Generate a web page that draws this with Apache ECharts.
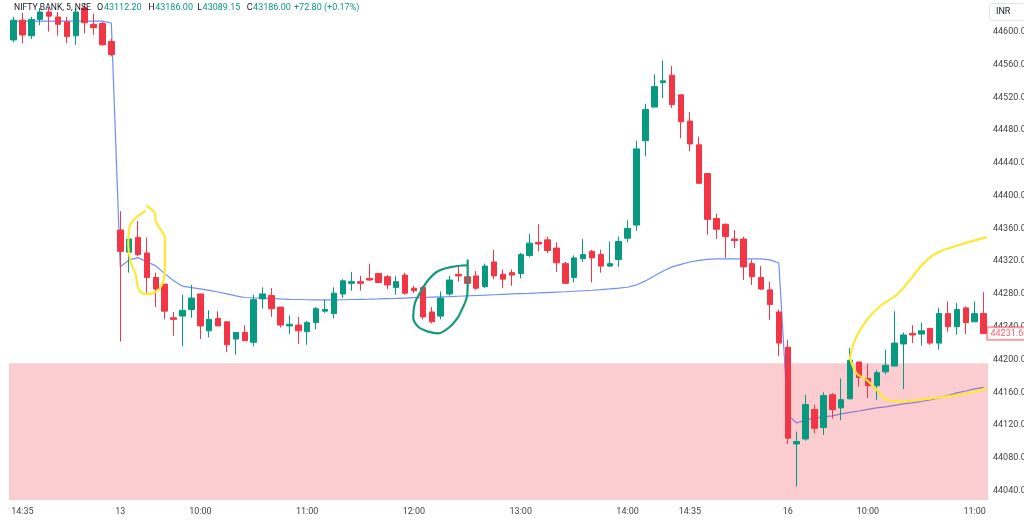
<!DOCTYPE html>
<html><head><meta charset="utf-8">
<script src="https://cdn.jsdelivr.net/npm/echarts@6/dist/echarts.min.js"></script>
<style>html,body{margin:0;padding:0;background:#fff;overflow:hidden}#c{width:1024px;height:522px}</style>
</head><body><div id="c"></div>
<script>
// ---- categories (5-minute candles) ----
const sessions = [
  {day: null, start: '14:30', end: '15:25'},
  {day: '13', start: '09:15', end: '15:25'},
  {day: '16', start: '09:15', end: '11:05'}
];
const xTickLabels = ['14:35', '13', '10:00', '11:00', '12:00', '13:00', '14:00', '16'];

// ---- OHLC: [open, close, low, high] ----
const prevDay = [
  [44590,44614,44587,44618],[44614,44596,44586,44623],[44595,44615,44591,44618],[44615,44624,44608,44629],
  [44624,44619,44600,44629],[44618,44609,44595,44624],[44612,44594,44586,44618],[44595,44624,44584,44629],
  [44629,44611,44598,44635],[44609,44605,44596,44622],[44610,44584,44583,44612],[44588,44572,44570,44592]
];
const day13 = [
  [44358,44332,44222,44381],[44331,44347,44306,44352],[44349,44328,44326,44369],[44330,44300,44279,44349],
  [44300,44286,44264,44306],[44292,44259,44249,44292],[44251,44249,44229,44258],[44253,44260,44216,44279],
  [44261,44275,44251,44291],[44280,44241,44225,44280],[44235,44249,44227,44260],[44250,44241,44241,44259],
  [44246,44218,44209,44246],[44225,44233,44206,44233],[44233,44223,44223,44242],[44221,44273,44216,44279],
  [44274,44280,44262,44288],[44278,44262,44252,44287],[44264,44242,44239,44264],[44241,44243,44231,44254],
  [44242,44235,44219,44252],[44234,44245,44218,44247],[44245,44262,44237,44264],[44259,44261,44257,44273],
  [44256,44281,44250,44288],[44280,44296,44275,44298],[44293,44295,44284,44307],[44295,44293,44284,44302],
  [44299,44297,44296,44317],[44305,44294,44293,44305],[44301,44291,44286,44303],[44288,44295,44279,44302],
  [44303,44281,44279,44306],[44287,44284,44281,44290],[44288,44252,44249,44290],[44258,44246,44244,44264],
  [44253,44275,44249,44283],[44280,44297,44278,44302],[44304,44302,44295,44313],[44301,44293,44289,44306],
  [44302,44287,44285,44308],[44289,44314,44287,44317],[44319,44302,44298,44334],[44304,44298,44287,44310],
  [44306,44303,44290,44310],[44305,44328,44299,44330],[44327,44342,44325,44353],[44343,44341,44332,44365],
  [44346,44333,44330,44350],[44336,44318,44307,44343],[44317,44293,44292,44319],[44300,44324,44294,44327],
  [44323,44328,44319,44347],[44332,44324,44294,44334],[44328,44314,44306,44334],[44314,44317,44313,44344],
  [44322,44344,44313,44350],[44348,44360,44343,44370],[44364,44457,44357,44467],[44467,44505,44448,44512],
  [44508,44533,44508,44548],[44538,44540,44519,44565],[44547,44511,44507,44558],[44523,44490,44470,44523],
  [44491,44463,44454,44502],[44462,44415,44415,44472],[44427,44371,44352,44427],[44372,44359,44347,44378],
  [44365,44350,44324,44366],[44347,44345,44336,44358],[44347,44313,44297,44350],[44317,44301,44291,44322],
  [44300,44286,44285,44314],[44285,44267,44248,44295],[44258,44220,44204,44261]
];
const day16 = [
  [44215,44104,44097,44224],[44097,44100,44045,44112],[44103,44145,44101,44157],[44139,44116,44110,44145],
  [44117,44156,44108,44160],[44157,44139,44128,44159],[44141,44151,44126,44177],[44152,44199,44152,44214],
  [44197,44178,44167,44197],[44177,44168,44153,44195],[44168,44184,44151,44187],[44185,44193,44182,44212],
  [44192,44220,44192,44259],[44219,44230,44164,44233],[44232,44230,44220,44242],[44231,44235,44217,44245],
  [44238,44220,44218,44238],[44220,44256,44212,44263],[44256,44240,44234,44271],[44240,44261,44230,44269],
  [44263,44245,44231,44265],[44246,44256,44246,44271],[44256,44231.6,44231.6,44282]
];

// ---- VWAP ----
const vwapPrev = [44613,44613,44613,44613,44613,44613,44613,44613,44613,44613,44613,44610.6];
const vwap13 = [
  44313.3,44321.5,44324.3,44319,44314.2,44304.8,44296.2,44289.5,44287.8,44286.1,44284.3,44282.4,44280,44277.6,
  44275.7,44275.1,44274.8,44274.4,44273.9,44273.5,44273.2,44272.9,44272.7,44272.7,44272.7,44272.9,44273.2,44273.4,
  44273.6,44273.9,44274.3,44274.6,44275,44275.4,44275.7,44276.1,44276.5,44276.8,44277.2,44277.6,44278.1,44278.5,
  44279,44279.5,44280,44280.5,44280.8,44281.2,44281.7,44282.2,44282.7,44283.3,44283.9,44284.5,44285.2,44286.1,
  44287.1,44288.2,44291,44295.9,44301.9,44308.1,44313,44316,44319,44320.9,44322.1,44322.7,44322.7,44322.7,
  44322.7,44322.7,44322.7,44321.5,44317.8
];
const vwap16 = [
  44132.4,44122.6,44126.3,44128.1,44130,44131.2,44133.6,44135.4,44137.2,44139.1,44140.9,44142.1,
  44144,44145.8,44147,44148.8,44150.7,44153.1,44156.1,44159.2,44161.6,44164.1,44165.9
];

// ---- demand zone ----
const zoneTop = 44195.4;
const zoneBottom = 44028.6;
const lastPrice = 44231.6;

// ---- hand-drawn marks: [candle position, price] ----
const yellowLoop = [[14.78,44381],[13.46,44370],[13.01,44360],[12.9,44340],[13.17,44319],[13.76,44303],[14.02,44287],
  [14.78,44280],[15.71,44281],[16.46,44287],[16.91,44299],[17.02,44319],[17.02,44348],[16.46,44360],[16.01,44368],
  [15.9,44378],[15.03,44387]];
const greenLoop = [[50.92,44315],[49.24,44313],[47.73,44308],[46.61,44297],[45.67,44281],[45.11,44269],[44.92,44252],
  [45.48,44240],[46.61,44234],[47.73,44232],[49.04,44240],[49.98,44252],[50.25,44258],[50.73,44269],[50.99,44279],
  [51.04,44297],[51.04,44321]];
const yellowUpper = [[93.99,44202],[94.55,44224],[95.87,44248],[97.36,44265],[99.24,44279],[100.73,44297],
  [102.22,44317],[103.73,44330],[106.35,44340],[109.27,44349]];
const yellowLower = [[93.99,44202],[94.74,44183],[95.87,44175],[96.99,44163],[98.11,44151],[99.61,44149],
  [102.61,44152],[106.35,44157],[109.27,44164]];

// ---- header ----
const headerName = 'NIFTY BANK, 5, NSE';
const headerVals = [['O','43112.20'],['H','43186.00'],['L','43089.15'],['C','43186.00']];
const headerChange = '+72.80 (+0.17%)';

// build categories
function toMin(s){const p=s.split(':');return (+p[0])*60+(+p[1]);}
function fmt(m){const h=Math.floor(m/60),mm=m%60;return String(h).padStart(2,'0')+':'+String(mm).padStart(2,'0');}
const cats = [];
sessions.forEach(s => {
  for (let m = toMin(s.start); m <= toMin(s.end); m += 5) {
    if (s.day && m === toMin(s.start)) cats.push(s.day); else cats.push(fmt(m));
  }
});
const tickSet = new Set(xTickLabels);
const candles = prevDay.concat(day13, day16);
const vwap = vwapPrev.concat(vwap13, vwap16);
const nCat = cats.length;

const GREEN = '#089981', RED = '#F23645';
const FONT = 'Roboto';
const FS = 9;

const chart = echarts.init(document.getElementById('c'), null, {renderer: 'canvas'});

// header graphics
const g = [
  {type:'text', left:14, top:3.5, z:100, style:{text:headerName, fill:'#131722', font:'8.6px '+FONT}}
];
const hx = [97, 148.3, 197.3, 246.7];
const hOff = [6.9, 6.9, 5.3, 6.4];
headerVals.forEach((p, k) => {
  g.push({type:'text', left:hx[k], top:3.5, z:100, style:{text:p[0], fill:'#131722', font:FS+'px '+FONT}});
  g.push({type:'text', left:hx[k]+hOff[k], top:3.5, z:100, style:{text:p[1], fill:GREEN, font:FS+'px '+FONT}});
});
g.push({type:'text', left:294, top:3.5, z:100, style:{text:headerChange, fill:GREEN, font:FS+'px '+FONT}});
// currency box
g.push({type:'rect', left:989, top:3, z:100, shape:{width:44, height:17, r:3}, style:{fill:'#fff', stroke:'#e0e3eb', lineWidth:1}});
g.push({type:'text', left:996, top:7, z:101, style:{text:'INR', fill:'#131722', font:FS+'px '+FONT}});

const annStyle = (color) => ({type:'line', xAxisIndex:1, yAxisIndex:0, smooth:0.35, symbol:'none', silent:true, z:5,
  lineStyle:{color:color, width:2.2, cap:'round', join:'round'}});

chart.setOption({
  animation:false,
  backgroundColor:'#ffffff',
  grid:[
    {left:9, right:36, top:-1.08, height:524.5, outerBoundsMode:'none', containLabel:false},
    {left:9, right:36, top:500, height:1, outerBoundsMode:'none', containLabel:false}
  ],
  xAxis:[
    {type:'category', gridIndex:0, data:cats, boundaryGap:true, show:false},
    {type:'value', gridIndex:0, min:-0.5, max:nCat-0.5, show:false},
    {type:'category', gridIndex:1, data:cats, boundaryGap:true,
      axisLine:{show:false}, axisTick:{show:false},
      axisLabel:{interval:(i, v) => tickSet.has(v), hideOverlap:false, fontSize:FS, fontFamily:FONT, color:'#444', margin:6}}
  ],
  yAxis:[
    {type:'value', gridIndex:0, position:'right', min:44000, max:44640, interval:40,
      splitLine:{show:false}, axisLine:{show:false}, axisTick:{show:false},
      axisLabel:{showMinLabel:false, showMaxLabel:false, formatter:v => v.toFixed(2), margin:5, fontSize:FS, fontFamily:FONT, color:'#444'}},
    {type:'value', gridIndex:1, show:false}
  ],
  graphic: g,
  series:[
    {type:'line', name:'VWAP', xAxisIndex:0, yAxisIndex:0, data:vwap, symbol:'none', silent:true, z:1,
      lineStyle:{color:'#6f8ff7', width:1.2}},
    {type:'line', name:'zone', xAxisIndex:1, yAxisIndex:0, data:[[-0.5, zoneTop],[nCat-0.5, zoneTop]], symbol:'none', silent:true, z:2,
      lineStyle:{width:0, opacity:0}, areaStyle:{color:'rgba(242,54,69,0.25)', opacity:1, origin:zoneBottom}},
    {type:'candlestick', xAxisIndex:0, yAxisIndex:0, data:candles, barWidth:6, z:3,
      itemStyle:{color:GREEN, color0:RED, borderColor:GREEN, borderColor0:RED, borderWidth:1}},
    {type:'scatter', name:'last', xAxisIndex:1, yAxisIndex:0, data:[[nCat-0.5, lastPrice]], symbolSize:1, silent:true, z:20,
      itemStyle:{color:'rgba(0,0,0,0)'}, clip:false,
      label:{show:true, position:'right', distance:-1, formatter:lastPrice.toFixed(2), color:RED, backgroundColor:'#fff',
        borderColor:RED, borderWidth:1, padding:[2,4,1,3], fontSize:FS, fontFamily:FONT}},
    Object.assign(annStyle('#FFE833'), {data:yellowLoop}),
    Object.assign(annStyle('#139a7c'), {data:greenLoop}),
    Object.assign(annStyle('#FFE833'), {data:yellowUpper}),
    Object.assign(annStyle('#FFE833'), {data:yellowLower})
  ]
});
</script></body></html>
